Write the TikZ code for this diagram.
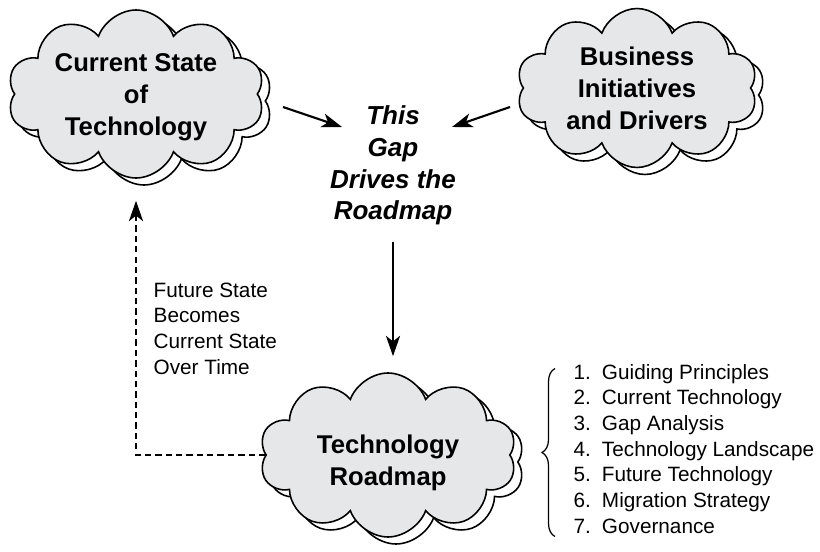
\documentclass[tikz,border=0pt]{standalone}
\usepackage{fontspec}
\setmainfont{Liberation Sans}
\usetikzlibrary{shapes.symbols, shadows, arrows.meta, decorations.pathreplacing, positioning}
\definecolor{cloudgray}{RGB}{230,231,232}
\tikzset{>={Stealth[length=5.8pt, width=4pt, inset=1.6pt]},
puff/.style={cloud, cloud puffs=10, cloud puff arc=140, cloud ignores aspect,
  draw, line width=0.45pt, fill=cloudgray, inner sep=0pt,
  copy shadow={shadow xshift=0.08cm, shadow yshift=-0.07cm, fill=white, draw=black, line width=0.45pt}},
puff text/.style={font=\fontsize{7.3}{9.1}\selectfont\bfseries, align=center, inner sep=0pt},
gap text/.style={font=\fontsize{7.4}{9}\selectfont\bfseries\itshape, align=center, inner sep=0pt},
note/.style={font=\fontsize{5.9}{7.3}\selectfont, align=left, inner sep=0pt},
link/.style={->, line width=0.6pt},
curly/.style={decorate, decoration={brace, amplitude=0.13cm}, line width=0.35pt}}

\begin{document}
\begin{tikzpicture}
\useasboundingbox (0,0) rectangle (8.2,5.51);
\node[puff, minimum width=2.57cm, minimum height=1.68cm,
  label={[puff text, yshift=-0.03cm]center:Current State\\of\\Technology}] (cur) at (1.36,4.57) {};
\node[puff, minimum width=2.41cm, minimum height=1.59cm,
  label={[puff text]center:Business\\Initiatives\\and Drivers}] (biz) at (6.37,4.63) {};
\node[puff, minimum width=2.57cm, minimum height=1.64cm,
  label={[puff text, yshift=-0.08cm]center:Technology\\Roadmap}] (road) at (3.88,0.96) {};
\node[gap text] (gap) at (3.93,3.855) {This\\Gap\\Drives the\\Roadmap};
\node[note, anchor=west] (later) at (1.53,2.225) {Future State\\Becomes\\Current State\\Over Time};
\node[note, anchor=west] (steps) at (5.73,1.0) {\begin{tabular}{@{}l@{\hspace{0.11cm}}l@{}}
1. & Guiding Principles\\
2. & Current Technology\\
3. & Gap Analysis\\
4. & Technology Landscape\\
5. & Future Technology\\
6. & Migration Strategy\\
7. & Governance
\end{tabular}};

\draw[link] ([xshift=1.47cm,yshift=-0.13cm]cur.center) -- ([xshift=-0.51cm,yshift=0.385cm]gap.center);
\draw[link] ([xshift=-1.27cm,yshift=-0.19cm]biz.center) -- ([xshift=0.59cm,yshift=0.385cm]gap.center);
\draw[link, shorten <=0.16cm, shorten >=0.16cm] (gap.south) -- (gap.south |- road.north);
\draw[link, line width=0.65pt, dash pattern=on 1.8pt off 1.15pt] (road.west) -| ([yshift=-0.22cm]cur.south);
\draw[curly] ([xshift=-0.18cm,yshift=0.05cm]steps.south west) -- ([xshift=-0.18cm,yshift=-0.08cm]steps.north west);
\end{tikzpicture}
\end{document}
